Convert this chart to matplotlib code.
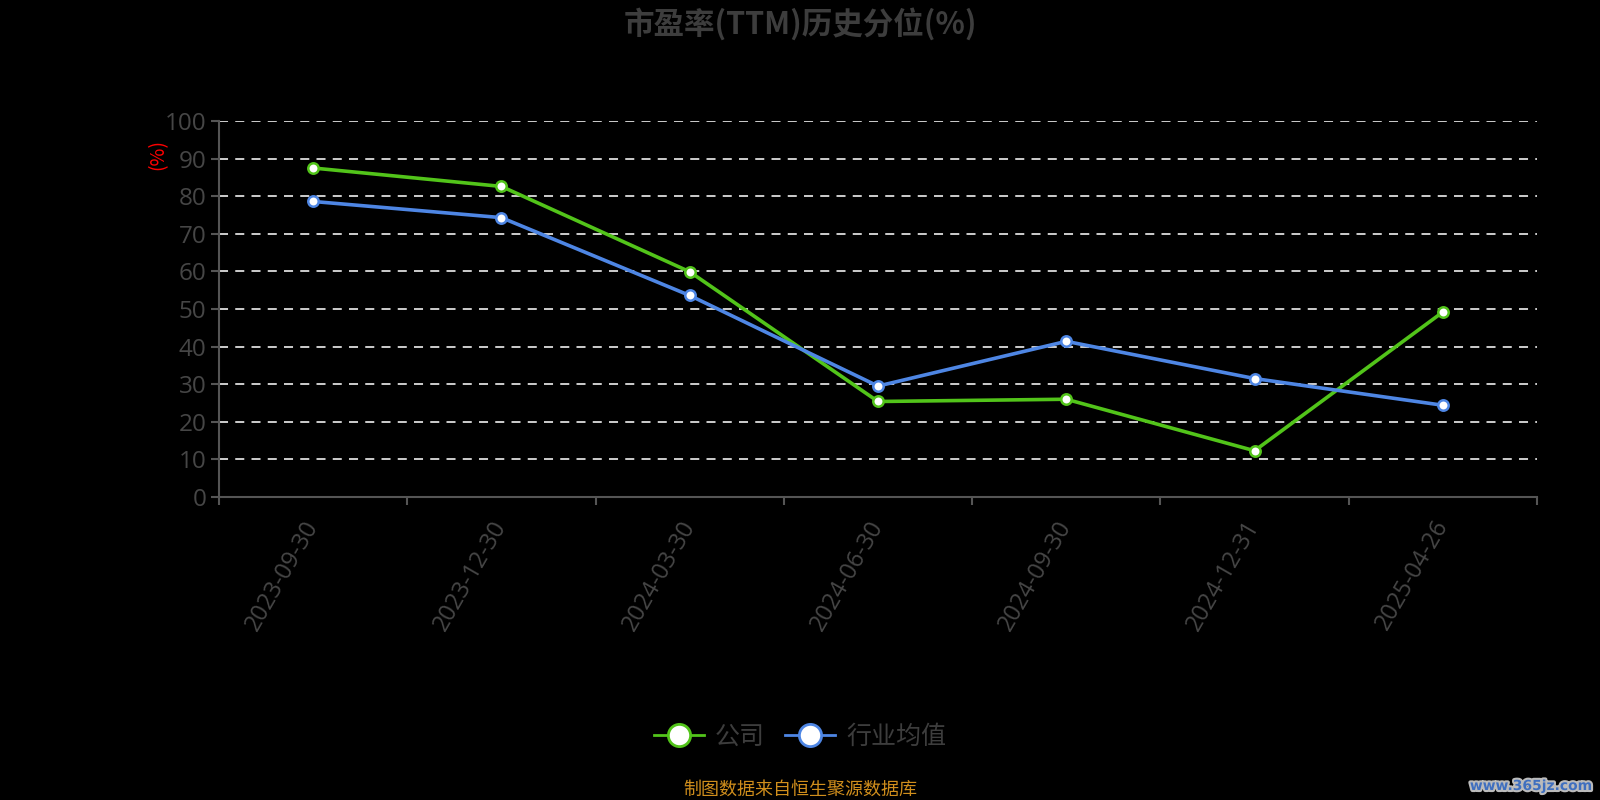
import matplotlib
matplotlib.use("Agg")
import matplotlib.pyplot as plt
import matplotlib.patheffects as pe
from matplotlib.lines import Line2D

plt.rcParams['font.family'] = ['Noto Sans CJK SC', 'DejaVu Sans']

categories = ["2023-09-30", "2023-12-30", "2024-03-30", "2024-06-30",
              "2024-09-30", "2024-12-31", "2025-04-26"]
company = [87.5, 82.6, 59.9, 25.4, 26.0, 12.3, 49.2]
industry = [78.6, 74.3, 53.6, 29.5, 41.4, 31.5, 24.4]
yticks = [0, 10, 20, 30, 40, 50, 60, 70, 80, 90, 100]
series_names = ["公司", "行业均值"]

GREEN = "#52c41a"
BLUE = "#4e86e4"
GREY_TXT = "#464646"
AXIS = "#555555"
NUM_FONT = ['Open Sans', 'DejaVu Sans']

fig = plt.figure(figsize=(16, 8), dpi=100, facecolor="black")
ax = fig.add_axes([219/1600, 1-497/800, (1537-219)/1600, (497-121)/800])
ax.set_facecolor("black")

x = list(range(len(categories)))
ax.set_xlim(-0.5, len(categories) - 0.5)
ax.set_ylim(0, 100)

for v in yticks[1:]:
    ax.axhline(v, color="#dddddd", lw=1.3, ls=(0, (5, 4)), zorder=1)

ax.plot(x, company, color=GREEN, lw=2.6, marker="o", ms=7.5, mfc="white",
        mec=GREEN, mew=1.8, zorder=3)
ax.plot(x, industry, color=BLUE, lw=2.6, marker="o", ms=7.5, mfc="white",
        mec=BLUE, mew=1.8, zorder=3)

for s in ["top", "right"]:
    ax.spines[s].set_visible(False)
for s in ["left", "bottom"]:
    ax.spines[s].set_color(AXIS)
    ax.spines[s].set_linewidth(1.5)

ax.set_yticks(yticks)
ax.set_yticklabels([str(v) for v in yticks], fontsize=17.5, color=GREY_TXT,
                   family=NUM_FONT)
ax.tick_params(axis="y", length=6, width=1.5, color=AXIS, pad=3)

# category boundary ticks
ax.set_xticks([i - 0.5 for i in range(len(categories) + 1)])
ax.set_xticklabels([""] * (len(categories) + 1))
ax.tick_params(axis="x", which="major", length=6, width=1.5, color=AXIS)
ax.set_xticks(x, minor=True)
ax.set_xticklabels(categories, minor=True, rotation=60, ha="right",
                   va="center", rotation_mode="anchor", fontsize=17, color=GREY_TXT,
                   family=NUM_FONT)
ax.tick_params(axis="x", which="minor", length=0, pad=18)

fig.text(158/1600, 1-155/800, "(%)", color="red", fontsize=14, rotation=90,
         ha="center", va="center")

fig.text(0.5, 1-24/800, "市盈率(TTM)历史分位(%)", color="#3d3d3d", fontsize=22,
         fontweight="bold", ha="center", va="center")

handles = [
    Line2D([0], [0], color=GREEN, lw=2, marker="o", ms=16, mfc="white", mec=GREEN, mew=2),
    Line2D([0], [0], color=BLUE, lw=2, marker="o", ms=16, mfc="white", mec=BLUE, mew=2),
]
leg = fig.legend(handles, series_names, loc="center", bbox_to_anchor=(0.5, 1-737/800),
                 ncol=2, frameon=False, fontsize=18, handlelength=2.0,
                 columnspacing=0.8, handletextpad=0.45)
for t in leg.get_texts():
    t.set_color("#3d3d3d")

fig.text(0.5, 1-790/800, "制图数据来自恒生聚源数据库", color="#d08e1c", fontsize=13,
         ha="center", va="center")

fig.text(1592/1600, 1-786/800, "www.365jz.com", color="#3f6fbf", fontsize=10,
         fontweight="bold", ha="right", va="center", family="DejaVu Sans",
         path_effects=[pe.withStroke(linewidth=3, foreground="#bbbbbb")])

fig.savefig("out.png", dpi=100, facecolor="black")
